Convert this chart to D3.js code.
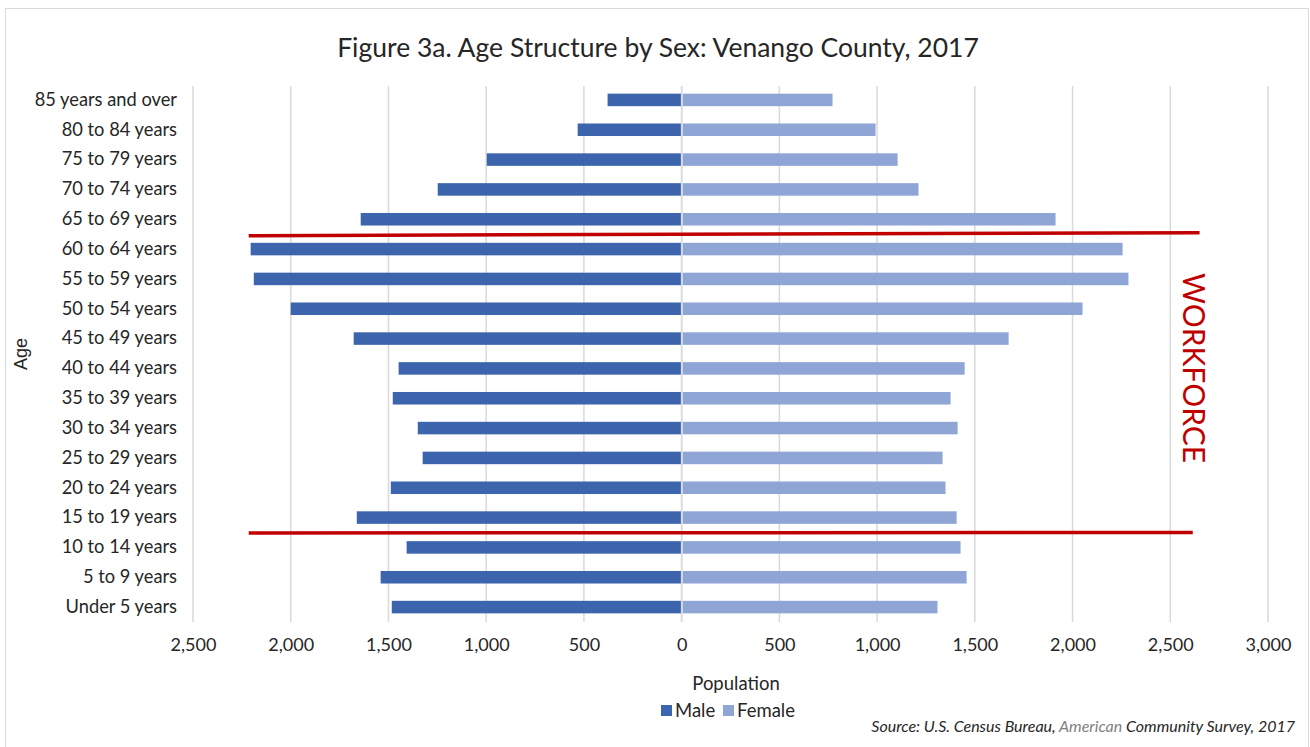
<!DOCTYPE html>
<html><head><meta charset="utf-8">
<script src="https://cdn.jsdelivr.net/npm/d3@7"></script>
<style>body{margin:0;background:#fff}svg{display:block}</style>
</head><body>
<svg id="c" width="1310" height="747"></svg>
<script>
const categories = ["85 years and over","80 to 84 years","75 to 79 years","70 to 74 years","65 to 69 years","60 to 64 years","55 to 59 years","50 to 54 years","45 to 49 years","40 to 44 years","35 to 39 years","30 to 34 years","25 to 29 years","20 to 24 years","15 to 19 years","10 to 14 years","5 to 9 years","Under 5 years"];
const male   = [379,532,997,1248,1642,2205,2189,2000,1678,1448,1478,1350,1325,1488,1662,1407,1540,1483];
const female = [772,992,1105,1212,1913,2256,2286,2051,1673,1448,1376,1412,1335,1350,1407,1427,1458,1309];
const xTicks = [-2500,-2000,-1500,-1000,-500,0,500,1000,1500,2000,2500,3000];
const workforceLines = [
  {x1:-2215, x2:2650, between:["65 to 69 years","60 to 64 years"], tilt:[1.5,-1.5]},
  {x1:-2215, x2:2615, between:["15 to 19 years","10 to 14 years"], tilt:[0.5,0]}
];

const svg = d3.select("#c");
const font = "Lato, 'Open Sans', sans-serif";
svg.append("rect").attr("x",5.5).attr("y",8.5).attr("width",1303).attr("height",745)
  .attr("fill","#fff").attr("stroke","#d9d9d9");

const x = d3.scaleLinear().domain([-2500,3000]).range([193,1268]);
const y = d3.scaleBand().domain(categories).range([85,622]).paddingInner(0.58).paddingOuter(0.29);

// gridlines
svg.append("g").selectAll("line").data(xTicks).join("line")
  .attr("x1",d=>x(d)).attr("x2",d=>x(d)).attr("y1",86).attr("y2",622)
  .attr("stroke","#d9d9d9").attr("stroke-width",1.5);

// bars
const g = svg.append("g");
g.selectAll(".m").data(categories).join("rect").attr("class","m")
  .attr("x",(d,i)=>x(-male[i])).attr("width",(d,i)=>x(0)-x(-male[i]))
  .attr("y",d=>y(d)).attr("height",y.bandwidth()).attr("fill","#3d65ae");
g.selectAll(".f").data(categories).join("rect").attr("class","f")
  .attr("x",x(0)+1).attr("width",(d,i)=>x(female[i])-x(0)-1)
  .attr("y",d=>y(d)).attr("height",y.bandwidth()).attr("fill","#8fa5d6");
svg.append("line").attr("x1",x(0)).attr("x2",x(0)).attr("y1",86).attr("y2",622)
  .attr("stroke","#d9d9d9").attr("stroke-width",1.5);

// axes
const xa = svg.append("g").attr("transform","translate(0,622)")
  .call(d3.axisBottom(x).tickValues(xTicks).tickSize(0).tickPadding(16).tickFormat(d=>d3.format(",")(Math.abs(d))));
xa.select(".domain").remove();
xa.selectAll("text").attr("font-family",font).attr("font-size",18).attr("fill","#262626");

const ya = svg.append("g").attr("transform","translate(183,0)")
  .call(d3.axisLeft(y).tickSize(0).tickPadding(6));
ya.select(".domain").remove();
ya.selectAll("text").attr("font-family",font).attr("font-size",18.3).attr("fill","#262626");

// title
svg.append("text").attr("x",658).attr("y",57).attr("text-anchor","middle")
  .attr("font-family",font).attr("font-size",26.5).attr("fill","#262626")
  .text("Figure 3a. Age Structure by Sex: Venango County, 2017");

// axis titles
svg.append("text").attr("x",736).attr("y",690).attr("text-anchor","middle")
  .attr("font-family",font).attr("font-size",18.5).attr("fill","#262626").text("Population");
svg.append("text").attr("transform","translate(27,354) rotate(-90)").attr("text-anchor","middle")
  .attr("font-family","'Liberation Sans', Arial, sans-serif").attr("font-size",18).attr("fill","#262626").text("Age");

// legend
const leg = [{k:"Male",c:"#3d65ae",x:661},{k:"Female",c:"#8fa5d6",x:723}];
leg.forEach(l=>{
  svg.append("rect").attr("x",l.x).attr("y",705).attr("width",11).attr("height",11).attr("fill",l.c);
  svg.append("text").attr("x",l.x+14).attr("y",717).attr("font-family",font).attr("font-size",18.5)
    .attr("fill","#262626").text(l.k);
});

// source
const src = svg.append("text").attr("x",1295).attr("y",732).attr("text-anchor","end")
  .attr("font-family",font).attr("font-size",16).attr("font-style","italic").attr("fill","#262626");
src.append("tspan").text("Source: U.S. Census Bureau, ");
src.append("tspan").attr("fill","#7f7f7f").text("American");
src.append("tspan").text(" Community Survey, 2017");

// workforce annotation
workforceLines.forEach(l=>{
  const yy = (y(l.between[0])+y.bandwidth()+y(l.between[1]))/2;
  svg.append("line").attr("x1",x(l.x1)).attr("x2",x(l.x2))
    .attr("y1",yy+l.tilt[0]).attr("y2",yy+l.tilt[1])
    .attr("stroke","#c00000").attr("stroke-width",3.5);
});
svg.append("text").attr("transform","translate(1183,368) rotate(90)").attr("text-anchor","middle")
  .attr("font-family",font).attr("font-size",30).attr("fill","#c00000").text("WORKFORCE");
</script>
</body></html>
